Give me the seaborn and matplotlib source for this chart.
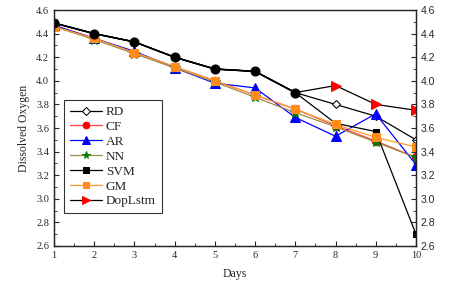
import numpy as np
import pandas as pd
import matplotlib
matplotlib.use('Agg')
import matplotlib.pyplot as plt
import seaborn as sns
from matplotlib.ticker import MultipleLocator

days = [1, 2, 3, 4, 5, 6, 7, 8, 9, 10]
observed = [4.49, 4.40, 4.33, 4.20, 4.10, 4.08, 3.90]
rd = [4.49, 4.40, 4.33, 4.20, 4.10, 4.08, 3.90, 3.80, 3.70, 3.50]
cf = [4.47, 4.36, 4.24, 4.12, 4.00, 3.88, 3.76, 3.62, 3.49, 3.35]
ar = [4.47, 4.36, 4.25, 4.11, 3.98, 3.94, 3.69, 3.53, 3.72, 3.29]
nn = [4.46, 4.35, 4.23, 4.11, 3.99, 3.86, 3.73, 3.61, 3.48, 3.35]
svm = [4.49, 4.40, 4.33, 4.20, 4.10, 4.08, 3.90, 3.64, 3.57, 2.70]
gm = [4.46, 4.36, 4.24, 4.12, 4.00, 3.88, 3.76, 3.63, 3.52, 3.44]
doplstm = [4.49, 4.40, 4.33, 4.20, 4.10, 4.08, 3.90, 3.96, 3.80, 3.75]

sns.set_style('ticks')
plt.rcParams['font.family'] = ['Liberation Serif', 'DejaVu Serif']

fig = plt.figure(figsize=(4.59, 2.87), dpi=100)
ax = fig.add_axes([0.1176, 0.143, 0.7886, 0.822])

n_obs = len(observed)
after_obs = list(range(n_obs, len(days)))

# (name, values, line colour, marker, face colour, edge colour, size, markevery)
series = [
    ('RD', rd, 'black', 'D', 'white', 'black', 4.5, after_obs),
    ('CF', cf, '#ff4040', 'o', 'red', 'red', 6, None),
    ('AR', ar, 'blue', '^', 'blue', 'blue', 6.5, None),
    ('NN', nn, '#9c8a4a', '*', 'green', 'green', 7, None),
    ('SVM', svm, 'black', 's', 'black', 'black', 5, after_obs),
    ('GM', gm, '#ff9a30', 's', '#ff8c1a', '#ff8c1a', 5.5, None),
    ('DopLstm', doplstm, 'black', '>', 'red', 'red', 6.5, after_obs),
]

for name, vals, lc, mk, fc, ec, ms, every in series:
    sns.lineplot(x=days, y=vals, ax=ax, color=lc, marker=mk, markersize=ms,
                 markerfacecolor=fc, markeredgecolor=ec, linewidth=0.9,
                 markevery=every, label=name)

# observed values (days 1-7) shown as black dots
sns.lineplot(x=days[:n_obs], y=observed, ax=ax, color='black',
             marker='o', markersize=6.5, markerfacecolor='black',
             markeredgecolor='black', linewidth=1.2, legend=False)

ax.set_xlim(1, 10)
ax.set_ylim(2.6, 4.6)
ax.xaxis.set_major_locator(MultipleLocator(1))
ax.xaxis.set_minor_locator(MultipleLocator(0.5))
ax.yaxis.set_major_locator(MultipleLocator(0.2))
ax.yaxis.set_minor_locator(MultipleLocator(0.1))
ax.tick_params(axis='both', which='both', direction='in', labelsize=7.5)
ax.tick_params(which='major', length=3.5)
ax.tick_params(which='minor', length=2)
ax.set_xlabel('Days', fontsize=8.5, labelpad=6)
ax.set_ylabel('Dissolved Oxygen', fontsize=8.5)

for s in ax.spines.values():
    s.set_linewidth(1.0)
ax.spines['top'].set_color('#555555')

ax2 = ax.twinx()
ax2.set_ylim(2.6, 4.6)
ax2.yaxis.set_major_locator(MultipleLocator(0.2))
ax2.yaxis.set_minor_locator(MultipleLocator(0.1))
ax2.tick_params(axis='y', which='both', direction='in', labelsize=7.5)
ax2.tick_params(which='major', length=3.5)
ax2.tick_params(which='minor', length=2)
ax2.set_yticklabels([f'{v:.1f}' for v in ax2.get_yticks()], family='Liberation Sans', fontsize=7.5)
ax2.set_ylim(2.6, 4.6)

leg = ax.legend(loc='lower left', bbox_to_anchor=(0.01, 0.11), fontsize=9.5,
                frameon=True, fancybox=False, edgecolor='black',
                handlelength=2.4, handletextpad=0.3, labelspacing=0.2,
                borderpad=0.45, markerscale=0.8)
leg.get_frame().set_linewidth(0.8)
for h in leg.legend_handles:
    h.set_markevery([1])

fig.savefig('out.png', dpi=100)
